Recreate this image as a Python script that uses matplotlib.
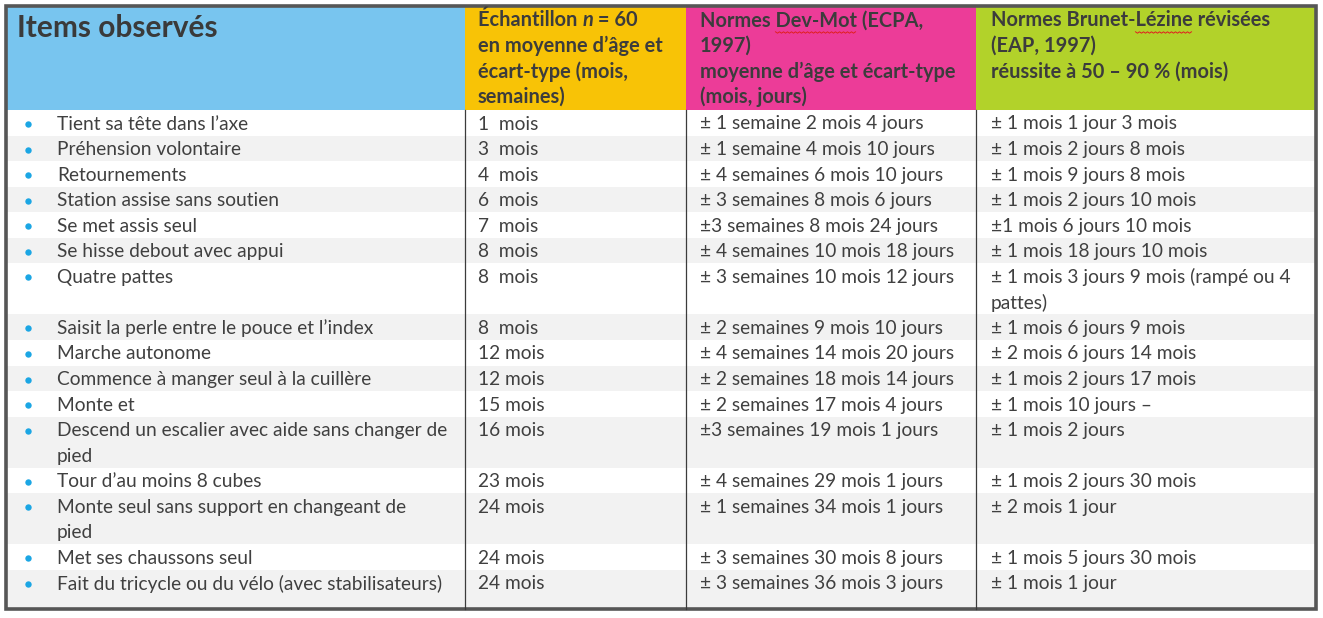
import numpy as np
import matplotlib.pyplot as plt
from matplotlib.patches import Rectangle

plt.rcParams['font.family'] = ['Lato', 'DejaVu Sans']

title = 'Items observés'
head2 = ['Échantillon |n| = 60', 'en moyenne d’âge et', 'écart-type (mois,', 'semaines)']
head3 = ['Normes Dev-Mot (ECPA,', '1997)', 'moyenne d’âge et écart-type', '(mois, jours)']
head4 = ['Normes Brunet-Lézine révisées', '(EAP, 1997)', 'réussite à 50 – 90 % (mois)']

items = ['Tient sa tête dans l’axe', 'Préhension volontaire', 'Retournements',
         'Station assise sans soutien', 'Se met assis seul', 'Se hisse debout avec appui',
         'Quatre pattes', 'Saisit la perle entre le pouce et l’index', 'Marche autonome',
         'Commence à manger seul à la cuillère', 'Monte et',
         'Descend un escalier avec aide sans changer de\npied', 'Tour d’au moins 8 cubes',
         'Monte seul sans support en changeant de\npied', 'Met ses chaussons seul',
         'Fait du tricycle ou du vélo (avec stabilisateurs)']
echantillon = ['1  mois', '3  mois', '4  mois', '6  mois', '7  mois', '8  mois', '8  mois',
               '8  mois', '12 mois', '12 mois', '15 mois', '16 mois', '23 mois', '24 mois',
               '24 mois', '24 mois']
devmot = ['± 1 semaine 2 mois 4 jours', '± 1 semaine 4 mois 10 jours',
          '± 4 semaines 6 mois 10 jours', '± 3 semaines 8 mois 6 jours',
          '±3 semaines 8 mois 24 jours', '± 4 semaines 10 mois 18 jours',
          '± 3 semaines 10 mois 12 jours', '± 2 semaines 9 mois 10 jours',
          '± 4 semaines 14 mois 20 jours', '± 2 semaines 18 mois 14 jours',
          '± 2 semaines 17 mois 4 jours', '±3 semaines 19 mois 1 jours',
          '± 4 semaines 29 mois 1 jours', '± 1 semaines 34 mois 1 jours',
          '± 3 semaines 30 mois 8 jours', '± 3 semaines 36 mois 3 jours']
brunet = ['± 1 mois 1 jour 3 mois', '± 1 mois 2 jours 8 mois', '± 1 mois 9 jours 8 mois',
          '± 1 mois 2 jours 10 mois', '±1 mois 6 jours 10 mois', '± 1 mois 18 jours 10 mois',
          '± 1 mois 3 jours 9 mois (rampé ou 4\npattes)', '± 1 mois 6 jours 9 mois',
          '± 2 mois 6 jours 14 mois', '± 1 mois 2 jours 17 mois', '± 1 mois 10 jours –',
          '± 1 mois 2 jours', '± 1 mois 2 jours 30 mois', '± 2 mois 1 jour',
          '± 1 mois 5 jours 30 mois', '± 1 mois 1 jour']

head_colors = ['#78c5ef', '#f8c306', '#ec3c98', '#b2d22a']
col_x = [6, 465, 686, 976, 1316]
text_x = [57, 478, 700, 991]
top, head_bot, bottom = 6, 110, 609
line_h = 25.55
txt_col = '#404040'
fs = 13.8
fs_head = 14.4

fig = plt.figure(figsize=(13.23, 6.18), dpi=100)
ax = fig.add_axes([0, 0, 1, 1])
ax.set_xlim(0, 1323)
ax.set_ylim(618, 0)
ax.axis('off')
r = fig.canvas.get_renderer()

def width(s, size, fw='normal', st='normal'):
    t = ax.text(0, 0, s, fontsize=size, fontweight=fw, fontstyle=st)
    w = t.get_window_extent(renderer=r).width
    t.remove()
    return w

# header blocks
for i, c in enumerate(head_colors):
    ax.add_patch(Rectangle((col_x[i], top), col_x[i + 1] - col_x[i], head_bot - top,
                           color=c, lw=0))
ax.text(17, 28, title, fontsize=21.5, fontweight='bold', color='#3a3a3a', va='center')

def header(lines, x):
    for k, s in enumerate(lines):
        y = 20.5 + k * line_h
        xx = x
        for j, p in enumerate(s.split('|')):
            st = 'italic' if j % 2 else 'normal'
            ax.text(xx, y, p, fontsize=fs_head, fontweight='bold', fontstyle=st,
                    color='#3c3c3c', va='center')
            xx += width(p, fs_head, 'bold', st)

header(head2, text_x[1])
header(head3, text_x[2])
header(head4, text_x[3])

# spell check squiggles
def squiggle(x0, x1, y):
    xs = np.arange(x0, x1, 2.0)
    ys = y + np.where(np.arange(len(xs)) % 2, 1.2, -0.2)
    ax.plot(xs, ys, color='#e02020', lw=0.7)

w0 = width('Normes ', fs_head, 'bold')
w1 = width('Normes Dev-Mot', fs_head, 'bold')
squiggle(text_x[2] + w0, text_x[2] + w1, 32)
w0 = width('Normes Brunet-', fs_head, 'bold')
w1 = width('Normes Brunet-Lézine', fs_head, 'bold')
squiggle(text_x[3] + w0, text_x[3] + w1, 32)

# body rows
y = head_bot
for i in range(len(items)):
    cells = [items[i], echantillon[i], devmot[i], brunet[i]]
    n = max(c.count('\n') + 1 for c in cells)
    h = n * line_h + (bottom - head_bot - 13 * line_h - 3 * 2 * line_h if i == len(items) - 1 else 0)
    bg = '#ffffff' if i % 2 == 0 else '#f2f2f2'
    ax.add_patch(Rectangle((col_x[0], y), col_x[-1] - col_x[0], h, color=bg, lw=0))
    ax.plot(28, y + 14, 'o', ms=4.6, color='#1ba6e4', mec='none')
    for j, c in enumerate(cells):
        for k, s in enumerate(c.split('\n')):
            ax.text(text_x[j], y + 14 + k * line_h, s, fontsize=fs, color=txt_col, va='center')
    y += h

# column dividers and outer border
for x in col_x[1:-1]:
    ax.plot([x, x], [head_bot, bottom], color='#3c3c3c', lw=0.9)
ax.add_patch(Rectangle((col_x[0], top), col_x[-1] - col_x[0], bottom - top,
                       fill=False, ec='#565656', lw=2.6))

fig.savefig('out.png', dpi=100)
